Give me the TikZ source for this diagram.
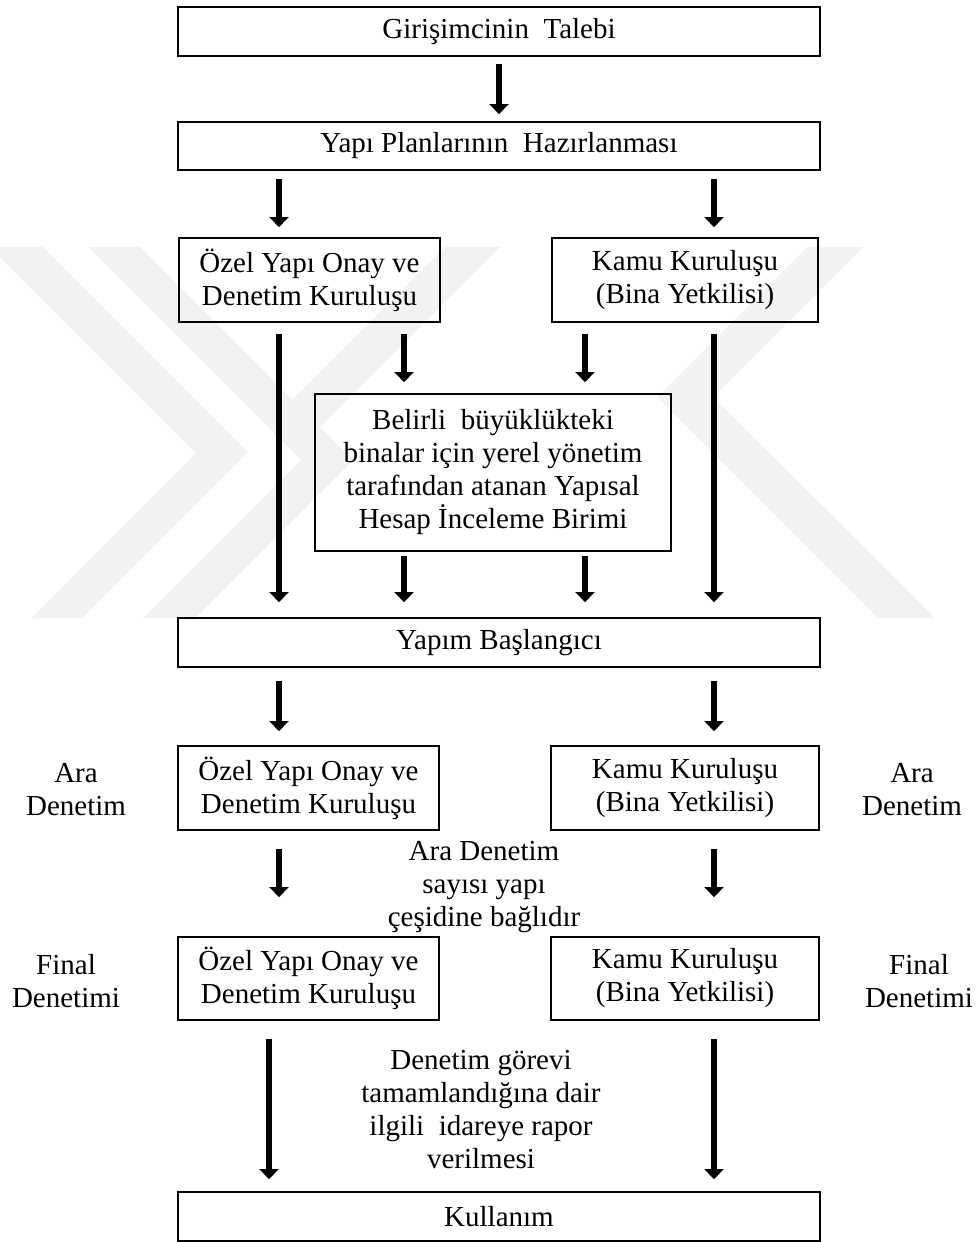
\documentclass[tikz,border=0pt]{standalone}
\usepackage{fontspec}
\setmainfont{Liberation Serif}
\usetikzlibrary{arrows.meta}

\begin{document}
\begin{tikzpicture}[x=1pt, y=-1pt,
  box/.style={draw=black, line width=1.8pt, rectangle, align=center, inner sep=0pt,
              font=\fontsize{29}{33}\selectfont},
  lbl/.style={align=center, inner sep=0pt, font=\fontsize{29}{33}\selectfont},
  flow/.style={line width=6.5pt, -{Triangle[width=19pt,length=10pt]}},
  wm/.style={fill=black!5, draw=none}]

\useasboundingbox (0,0) rectangle (977,1242);

% faint background emblem
\begin{scope}
  \clip (0,0) rectangle (977,1242);
  \fill[wm] (-10,247) -- (43,247) -- (248,452) -- (82,618) -- (32,618) -- (196,453) -- cycle;
  \fill[wm] (88,247) -- (140,247) -- (353,460) -- (195,618) -- (143,618) -- (301,460) -- cycle;
  \fill[wm] (445,247) -- (500,247) -- (320,427) -- (292.5,399.5) -- cycle;
  \fill[wm] (807,247) -- (863,247) -- (713,397) -- (935,618) -- (878,618) -- (657,397) -- cycle;
\end{scope}

% columns used by the connectors
\coordinate (cL)  at (279,0);
\coordinate (cR)  at (714,0);
\coordinate (cIL) at (404,0);
\coordinate (cIR) at (585,0);
\coordinate (cB)  at (269,0);

% boxes
\node[box, minimum width=642pt, minimum height=49pt] (talep) at (499,31.5) {Girişimcinin\ \ Talebi};
\node[box, minimum width=642pt, minimum height=48pt] (plan) at (499,146) {Yapı Planlarının\ \ Hazırlanması};

\node[box, minimum width=261pt, minimum height=84pt] (ozelA) at (309.5,280) {Özel Yapı Onay ve\\Denetim Kuruluşu};
\node[box, minimum width=266pt, minimum height=84pt] (kamuA) at (685,280) {Kamu Kuruluşu\\(Bina Yetkilisi)};

\node[box, minimum width=356pt, minimum height=157pt] (hesap) at (493,472.5)
  {Belirli\ \ büyüklükteki\\binalar için yerel yönetim\\tarafından atanan Yapısal\\Hesap İnceleme Birimi};

\node[box, minimum width=642pt, minimum height=49pt] (yapim) at (499,642.5) {Yapım Başlangıcı};

\node[box, minimum width=261pt, minimum height=84pt] (ozelB) at (308.5,788) {Özel Yapı Onay ve\\Denetim Kuruluşu};
\node[box, minimum width=268pt, minimum height=84pt] (kamuB) at (685,788) {Kamu Kuruluşu\\(Bina Yetkilisi)};

\node[box, minimum width=261pt, minimum height=83pt] (ozelC) at (308.5,978.5) {Özel Yapı Onay ve\\Denetim Kuruluşu};
\node[box, minimum width=268pt, minimum height=83pt] (kamuC) at (685,978.5) {Kamu Kuruluşu\\(Bina Yetkilisi)};

\node[box, minimum width=642pt, minimum height=49pt] (kullanim) at (499,1216.5) {Kullanım};

% side labels and notes
\node[lbl] (araL) at (76,790) {Ara\\Denetim};
\node[lbl] (araR) at (912,790) {Ara\\Denetim};
\node[lbl] (finL) at (66,981) {Final\\Denetimi};
\node[lbl] (finR) at (919,981) {Final\\Denetimi};
\node[lbl] (araNote) at (484,887) {Ara Denetim\\sayısı yapı\\çeşidine bağlıdır};
\node[lbl] (rapor) at (481,1110) {Denetim görevi\\tamamlandığına dair\\ilgili\ \ idareye rapor\\verilmesi};

% connectors
\draw[flow, shorten <=7pt, shorten >=7pt] (talep.south) -- (plan.north);

\draw[flow, shorten <=8pt, shorten >=10pt] (plan.south -| cL) -- (ozelA.north -| cL);
\draw[flow, shorten <=8pt, shorten >=10pt] (plan.south -| cR) -- (kamuA.north -| cR);

\draw[flow, shorten <=11pt, shorten >=15pt] (ozelA.south -| cL) -- (yapim.north -| cL);
\draw[flow, shorten <=11pt, shorten >=15pt] (kamuA.south -| cR) -- (yapim.north -| cR);
\draw[flow, shorten <=11pt, shorten >=11pt] (ozelA.south -| cIL) -- (hesap.north -| cIL);
\draw[flow, shorten <=11pt, shorten >=11pt] (kamuA.south -| cIR) -- (hesap.north -| cIR);
\draw[flow, shorten <=4pt, shorten >=15pt] (hesap.south -| cIL) -- (yapim.north -| cIL);
\draw[flow, shorten <=4pt, shorten >=15pt] (hesap.south -| cIR) -- (yapim.north -| cIR);

\draw[flow, shorten <=13pt, shorten >=14pt] (yapim.south -| cL) -- (ozelB.north -| cL);
\draw[flow, shorten <=13pt, shorten >=14pt] (yapim.south -| cR) -- (kamuB.north -| cR);

\draw[flow, shorten <=18pt, shorten >=39pt] (ozelB.south -| cL) -- (ozelC.north -| cL);
\draw[flow, shorten <=18pt, shorten >=39pt] (kamuB.south -| cR) -- (kamuC.north -| cR);

\draw[flow, shorten <=18pt, shorten >=12pt] (ozelC.south -| cB) -- (kullanim.north -| cB);
\draw[flow, shorten <=18pt, shorten >=12pt] (kamuC.south -| cR) -- (kullanim.north -| cR);

\end{tikzpicture}
\end{document}
